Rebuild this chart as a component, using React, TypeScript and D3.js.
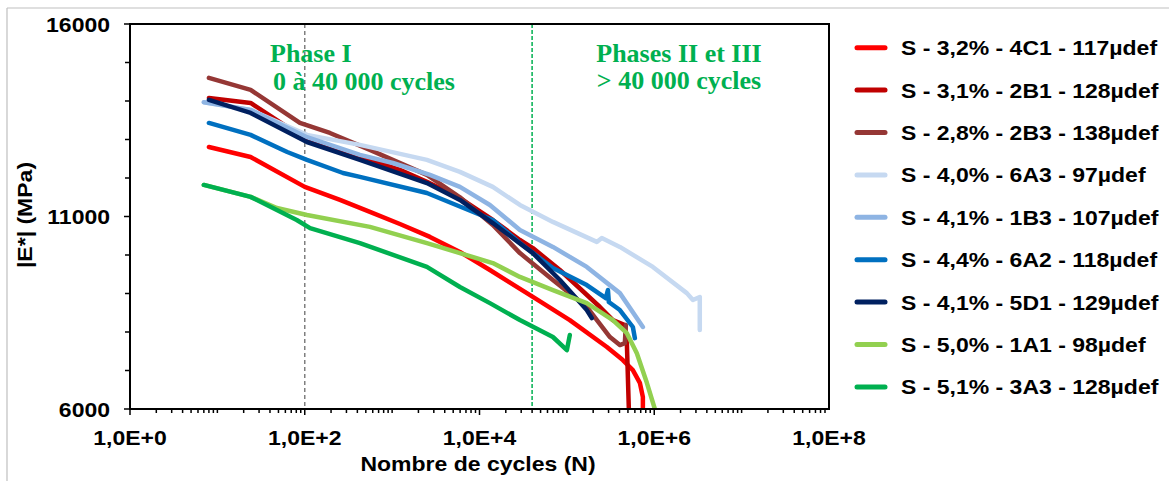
import React from "react";
import * as d3 from "d3";

// ---------- DATA (N cycles, |E*| MPa) ----------
const seriesNames = [
  "S - 3,2% - 4C1 - 117µdef",
  "S - 3,1% - 2B1 - 128µdef",
  "S - 2,8% - 2B3 - 138µdef",
  "S - 4,0% - 6A3 - 97µdef",
  "S - 4,1% - 1B3 - 107µdef",
  "S - 4,4% - 6A2 - 118µdef",
  "S - 4,1% - 5D1 - 129µdef",
  "S - 5,0% - 1A1 - 98µdef",
  "S - 5,1% - 3A3 - 128µdef",
];

const s4C1: [number, number][] = [
  [8, 12805], [24, 12545], [100, 11770], [253, 11430], [557, 11120], [1228, 10805],
  [2710, 10470], [5970, 10080], [13150, 9610], [40800, 8910], [108000, 8310],
  [287000, 7610], [437000, 7270], [569000, 7010], [684000, 6680], [741000, 6310],
  [741000, 5900],
];
const s2B1: [number, number][] = [
  [8, 14080], [24, 13950], [106, 12990], [253, 12730], [557, 12470], [1228, 12210],
  [2500, 11900], [5970, 11480], [14200, 10910], [29000, 10390], [40800, 10180],
  [83200, 9610], [239000, 8650], [336000, 8310], [461000, 8180], [486000, 7710],
  [512000, 6000], [515000, 5900],
];
const s2B3: [number, number][] = [
  [8, 14600], [24, 14290], [88, 13430], [194, 13170], [557, 12730], [2500, 12080],
  [5970, 11500], [14200, 10780], [29000, 10050], [69200, 9350], [169000, 8650],
  [311000, 7870], [404000, 7660], [461000, 7710], [473000, 8180],
];
const s6A3: [number, number][] = [
  [7, 13970], [24, 13770], [106, 13120], [428, 12860], [2500, 12470], [5970, 12160],
  [14200, 11770], [29000, 11300], [69200, 10860], [220000, 10340], [251000, 10440],
  [404000, 10210], [964000, 9690], [2360000, 9010], [2770000, 8830], [3320000, 8910],
  [3320000, 8050],
];
const s1B3: [number, number][] = [
  [7, 13970], [24, 13770], [106, 13060], [428, 12600], [1020, 12390], [2710, 12080],
  [5970, 11770], [13150, 11300], [29000, 10650], [69200, 10210], [169000, 9690],
  [404000, 9010], [741000, 8130],
];
const s6A2: [number, number][] = [
  [8, 13430], [24, 13120], [63, 12675], [106, 12470], [274, 12130], [428, 12030],
  [2500, 11610], [14200, 10910], [29000, 10310], [69200, 9660], [169000, 9220],
  [279000, 8880], [295000, 9090], [302000, 8780], [404000, 8570], [569000, 8130],
  [600000, 7840],
];
const s5D1: [number, number][] = [
  [8, 14030], [24, 13690], [106, 12935], [428, 12470], [2500, 11870], [5970, 11430],
  [14200, 10830], [40800, 10050], [83200, 9350], [169000, 8570], [193000, 8360],
];
const s1A1: [number, number][] = [
  [7, 11820], [24, 11510], [48, 11220], [106, 11040], [557, 10730], [2500, 10310],
  [14200, 9790], [29000, 9430], [69200, 9090], [169000, 8750], [336000, 8310],
  [486000, 7970], [632000, 7450], [823000, 6680], [1016000, 6000], [1050000, 5900],
];
const s3A3: [number, number][] = [
  [7, 11820], [24, 11510], [81, 10910], [115, 10700], [428, 10310], [2500, 9690],
  [5970, 9170], [13150, 8750], [29000, 8310], [69200, 7870], [100000, 7530],
  [108000, 7920],
];

const allSeries = [s4C1, s2B1, s2B3, s6A3, s1B3, s6A2, s5D1, s1A1, s3A3];

const xTickValues = [1, 1e2, 1e4, 1e6, 1e8];
const xTickLabels = ["1,0E+0", "1,0E+2", "1,0E+4", "1,0E+6", "1,0E+8"];
const yTickValues = [6000, 11000, 16000];
const yTickLabels = ["6000", "11000", "16000"];
const phaseBoundaries = [100, 40000];

// ---------- STYLES ----------
const colors = [
  "#FF0000", "#C00000", "#953735", "#C6D9F1", "#8EB4E3",
  "#0070C0", "#002060", "#92D050", "#00B050",
];
const SANS = "'Liberation Sans', Arial, sans-serif";
const SERIF = "'Liberation Serif', 'Times New Roman', serif";
const SX = 1.15;

export default function App() {
  const W = 1169, H = 481;
  const left = 130, right = 829, top = 24, bottom = 409;
  const x = d3.scaleLog().domain([1, 1e8]).range([left, right]);
  const y = d3.scaleLinear().domain([6000, 16000]).range([bottom, top]);
  const line = d3.line<[number, number]>()
    .x((d) => x(d[0]))
    .y((d) => y(d[1]));

  const xMinor = x.ticks().filter((v) => v < 1e8);
  const yMinor = d3.range(6000, 16001, 1000);

  const legendY0 = 47.7, legendDy = 42.4;

  return (
    <svg width={W} height={H} style={{ position: "absolute", left: 0, top: 0, background: "#fff" }}>
      <defs>
        <clipPath id="plotClip">
          <rect x={left} y={top} width={right - left} height={bottom - top} />
        </clipPath>
      </defs>
      <rect x={0} y={0} width={W} height={H} fill="#fff" />
      {/* outer frame */}
      <line x1={7} y1={8} x2={W} y2={8} stroke="#BFBFBF" strokeWidth={1.2} />
      <line x1={7} y1={8} x2={7} y2={H} stroke="#BFBFBF" strokeWidth={1.2} />

      {/* phase boundary lines */}
      <line x1={x(phaseBoundaries[0])} x2={x(phaseBoundaries[0])} y1={top} y2={bottom}
        stroke="#7F7F7F" strokeWidth={1.5} strokeDasharray="4,3" />
      <line x1={x(phaseBoundaries[1])} x2={x(phaseBoundaries[1])} y1={top} y2={bottom}
        stroke="#00B050" strokeWidth={1.5} strokeDasharray="4,2" />

      {/* series */}
      <g clipPath="url(#plotClip)">
        {allSeries.map((s, i) => (
          <path key={i} d={line(s) || ""} fill="none" stroke={colors[i]} strokeWidth={4.5}
            strokeLinejoin="round" strokeLinecap="round" />
        ))}
      </g>

      {/* plot border */}
      <rect x={left} y={top} width={right - left} height={bottom - top} fill="none" stroke="#000" strokeWidth={2} />

      {/* x ticks */}
      {xMinor.map((v, i) => {
        const isMajor = xTickValues.includes(v);
        return <line key={"xm" + i} x1={x(v)} x2={x(v)} y1={bottom} y2={bottom + (isMajor ? 6 : 4)} stroke="#000" strokeWidth={1.5} />;
      })}
      {xTickValues.map((v, i) => (
        <text key={"xl" + i} transform={`translate(${x(v)},445) scale(${SX},1)`} textAnchor="middle"
          fontFamily={SANS} fontWeight="bold" fontSize={20} fill="#000">{xTickLabels[i]}</text>
      ))}

      {/* y ticks */}
      {yMinor.map((v, i) => (
        <line key={"ym" + i} x1={left - (yTickValues.includes(v) ? 6 : 5)} x2={left} y1={y(v)} y2={y(v)} stroke="#000" strokeWidth={1.5} />
      ))}
      {yTickValues.map((v, i) => (
        <text key={"yl" + i} transform={`translate(110,${y(v) + 7.5}) scale(${SX},1)`} textAnchor="end"
          fontFamily={SANS} fontWeight="bold" fontSize={20} fill="#000">{yTickLabels[i]}</text>
      ))}

      {/* axis titles */}
      <text transform={`translate(478,471) scale(${SX},1)`} textAnchor="middle" fontFamily={SANS}
        fontWeight="bold" fontSize={20} fill="#000">Nombre de cycles (N)</text>
      <text transform={`translate(32,215) rotate(-90) scale(${SX},1)`} textAnchor="middle" fontFamily={SANS}
        fontWeight="bold" fontSize={20} fill="#000">|E*| (MPa)</text>

      {/* phase labels */}
      <text x={270} y={62} fontFamily={SERIF} fontWeight="bold" fontSize={26} fill="#00B050">Phase I</text>
      <text x={273} y={90} fontFamily={SERIF} fontWeight="bold" fontSize={26} fill="#00B050">0 à 40 000 cycles</text>
      <text x={679} y={62} textAnchor="middle" fontFamily={SERIF} fontWeight="bold" fontSize={26} fill="#00B050">Phases II et III</text>
      <text x={679} y={89} textAnchor="middle" fontFamily={SERIF} fontWeight="bold" fontSize={26} fill="#00B050">&gt; 40 000 cycles</text>

      {/* legend */}
      {seriesNames.map((name, i) => {
        const ly = legendY0 + i * legendDy;
        return (
          <g key={"lg" + i}>
            <line x1={857} x2={885} y1={ly} y2={ly} stroke={colors[i]} strokeWidth={5} strokeLinecap="round" />
            <text transform={`translate(901,${ly + 7.5}) scale(${SX},1)`} fontFamily={SANS} fontWeight="bold"
              fontSize={20} fill="#000">{name}</text>
          </g>
        );
      })}
    </svg>
  );
}
